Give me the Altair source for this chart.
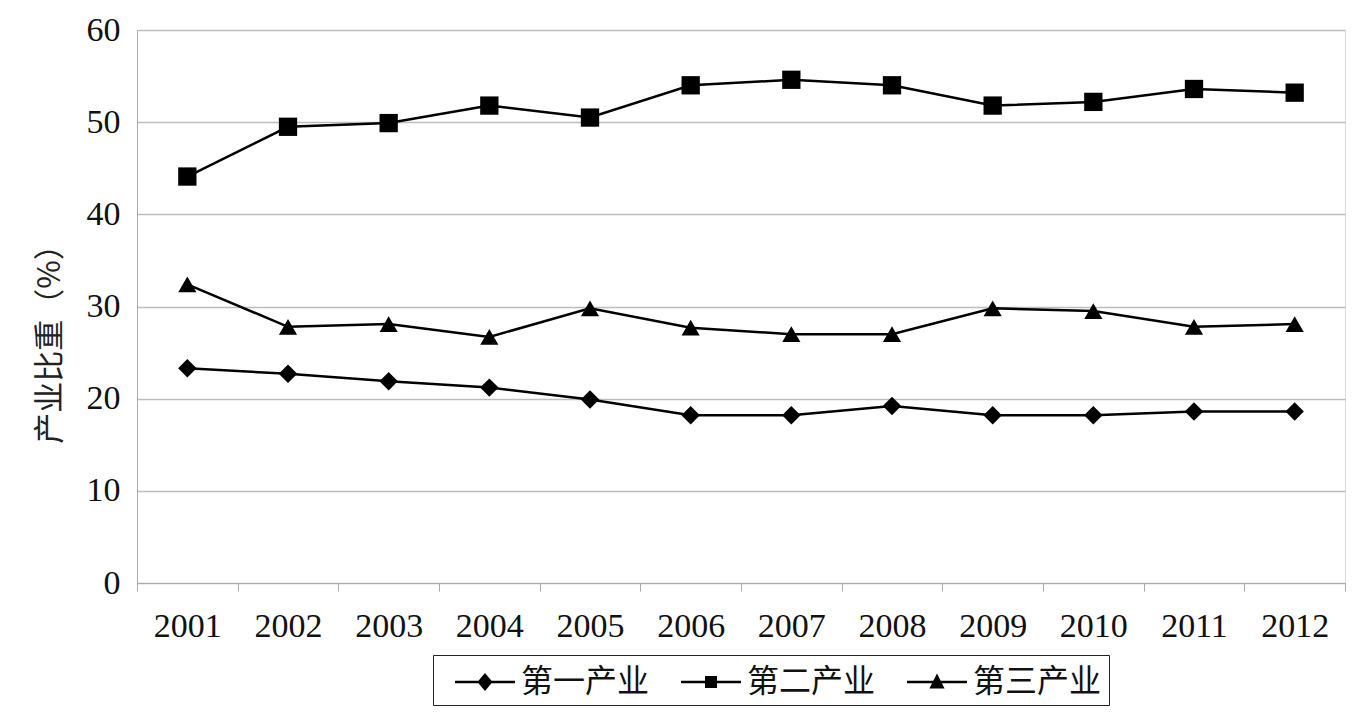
import altair as alt
import pandas as pd

years = ["2001", "2002", "2003", "2004", "2005", "2006", "2007", "2008", "2009", "2010", "2011", "2012"]
series_names = ["第一产业", "第二产业", "第三产业"]
primary = [23.3, 22.7, 21.9, 21.2, 19.9, 18.2, 18.2, 19.2, 18.2, 18.2, 18.6, 18.6]
secondary = [44.1, 49.5, 49.9, 51.8, 50.5, 54.0, 54.6, 54.0, 51.8, 52.2, 53.6, 53.2]
tertiary = [32.4, 27.8, 28.1, 26.7, 29.8, 27.7, 27.0, 27.0, 29.8, 29.5, 27.8, 28.1]
y_ticks = [0, 10, 20, 30, 40, 50, 60]

rows = []
for name, vals in zip(series_names, [primary, secondary, tertiary]):
    for yr, v in zip(years, vals):
        rows.append({"year": yr, "series": name, "value": v})
df = pd.DataFrame(rows)

serif = "Liberation Serif"
cjk = "Noto Sans CJK SC"

x_enc = alt.X("year:N", sort=years,
              scale=alt.Scale(paddingInner=0, paddingOuter=0),
              axis=alt.Axis(title=None, labelFont=serif, labelFontSize=34, labelColor="#111",
                            labelPadding=18, labelAngle=0, domainColor="#aaa", tickColor="#aaa",
                            tickSize=8, tickBand="extent", grid=False))
y_enc = alt.Y("value:Q", scale=alt.Scale(domain=[0, 60], nice=False),
              axis=alt.Axis(title="产业比重（%）", titleFont=cjk, titleFontSize=31,
                            titleFontWeight="normal", titleColor="#222",
                            titleX=-87, titleY=306, titleAlign="center", titleBaseline="middle",
                            titleAngle=270,
                            values=y_ticks, labelFont=serif, labelFontSize=34, labelColor="#111",
                            labelPadding=17, ticks=False, domainColor="#aaa",
                            grid=True, gridColor="#bdbdbd", gridWidth=1.5))

base = alt.Chart(df)

lines = base.mark_line(color="black", strokeWidth=2.5).encode(
    x=x_enc, y=y_enc, detail="series:N")

points = base.mark_point(filled=True, color="black", opacity=1).encode(
    x=alt.X("year:N", sort=years), y="value:Q",
    shape=alt.Shape("series:N", sort=series_names,
                    scale=alt.Scale(domain=series_names, range=["diamond", "square", "triangle-up"]),
                    legend=None),
    size=alt.Size("series:N", scale=alt.Scale(domain=series_names, range=[340, 330, 600]),
                  legend=None))

leg_paths = [
    "M-1.5,-0.06L1.5,-0.06L1.5,0.06L-1.5,0.06ZM0,-0.45L0.38,0L0,0.45L-0.38,0Z",
    "M-1.5,-0.06L1.5,-0.06L1.5,0.06L-1.5,0.06ZM-0.3,-0.3L0.3,-0.3L0.3,0.3L-0.3,0.3Z",
    "M-1.5,-0.06L1.5,-0.06L1.5,0.06L-1.5,0.06ZM0,-0.42L0.38,0.32L-0.38,0.32Z",
]

legend_layer = base.mark_point(filled=True, color="black", opacity=0).encode(
    x=alt.X("year:N", sort=years), y="value:Q",
    shape=alt.Shape("series:N", sort=series_names,
                    scale=alt.Scale(domain=series_names, range=leg_paths),
                    legend=alt.Legend(title=None, orient="none", legendX=296, legendY=625,
                                      direction="horizontal", symbolSize=1600,
                                      symbolOpacity=1, symbolFillColor="black",
                                      symbolStrokeWidth=0,
                                      labelFont=cjk, labelFontSize=32, labelColor="#111",
                                      columnPadding=16, labelOffset=16, padding=7,
                                      symbolOffset=25,
                                      strokeColor="#222", fillColor="white",
                                      labelLimit=300)))

chart = alt.layer(lines, points, legend_layer).resolve_scale(shape="independent", size="independent").properties(
    width=1208, height=553,
    autosize=alt.AutoSizeParams(type="none"),
    padding={"left": 137, "top": 30, "right": 27, "bottom": 138},
).configure_view(stroke=None).configure(background="white")

chart.save("out.html", embed_options={"renderer": "svg", "actions": False})
